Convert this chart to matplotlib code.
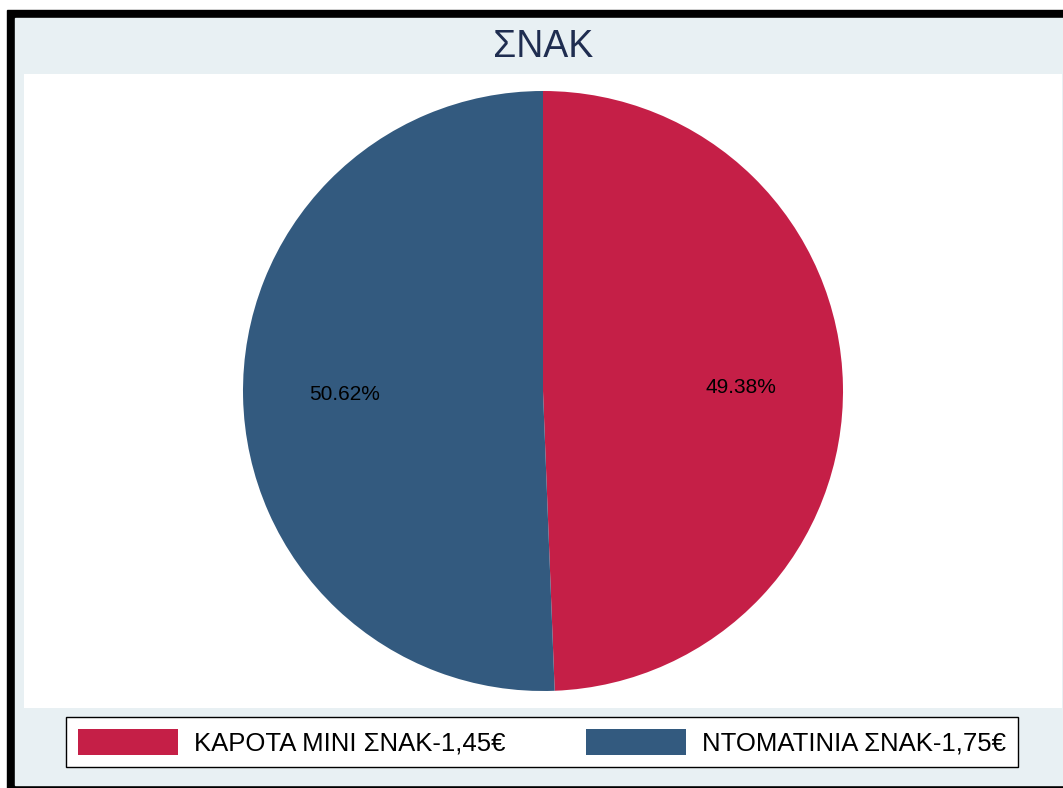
import matplotlib.pyplot as plt
from matplotlib.patches import Rectangle

plt.rcParams['font.family'] = ['Liberation Sans', 'DejaVu Sans']

labels = ['ΚΑΡΟΤΑ ΜΙΝΙ ΣΝΑΚ-1,45€', 'ΝΤΟΜΑΤΙΝΙΑ ΣΝΑΚ-1,75€']
shares = [49.38, 50.62]
colors = ['#c51f47', '#335a7f']
title = 'ΣΝΑΚ'

W, H = 1063, 788
fig = plt.figure(figsize=(W / 100, H / 100), dpi=100, facecolor='white')

# black frame + light background (pixel coords converted to figure fraction)
def box(x0, y0, x1, y1, color):
    fig.patches.append(Rectangle((x0 / W, 1 - y1 / H), (x1 - x0) / W, (y1 - y0) / H,
                                 transform=fig.transFigure, color=color, zorder=-10))

box(7, 10, W + 5, H + 5, 'black')
box(15, 18, W + 5, 785, '#e8f0f3')

ax = fig.add_axes([24 / W, 1 - 708 / H, (1062 - 24) / W, (708 - 74) / H])

r = 300
wedges, texts, autotexts = ax.pie(shares, colors=colors, startangle=90, counterclock=False,
                                  autopct='%.2f%%', pctdistance=0.66, radius=1,
                                  textprops={'fontsize': 15, 'color': 'black'})
ax.set_frame_on(True)
ax.set_facecolor('white')
ax.set_aspect('auto')
ax.set_xlim(-(1062 - 24) / 2 / r, (1062 - 24) / 2 / r)
ax.set_ylim(-(708 - 74) / 2 / r, (708 - 74) / 2 / r)
ax.set_xticks([])
ax.set_yticks([])
for s in ax.spines.values():
    s.set_visible(False)

fig.text(543 / W, 1 - 47 / H, title, ha='center', va='center', fontsize=27, color='#1f2d50')

leg = fig.legend(wedges, labels, loc='center', bbox_to_anchor=(542 / W, 1 - 742 / H), ncol=2,
                 fontsize=18.5, frameon=True, fancybox=False, edgecolor='black',
                 handlelength=3.9, handleheight=1.2, handletextpad=0.65, columnspacing=3.1,
                 borderpad=0.45)
leg.get_frame().set_linewidth(1.0)
leg.get_frame().set_facecolor('white')
leg.get_frame().set_alpha(1)

fig.savefig('out.png', dpi=100, facecolor='white')
